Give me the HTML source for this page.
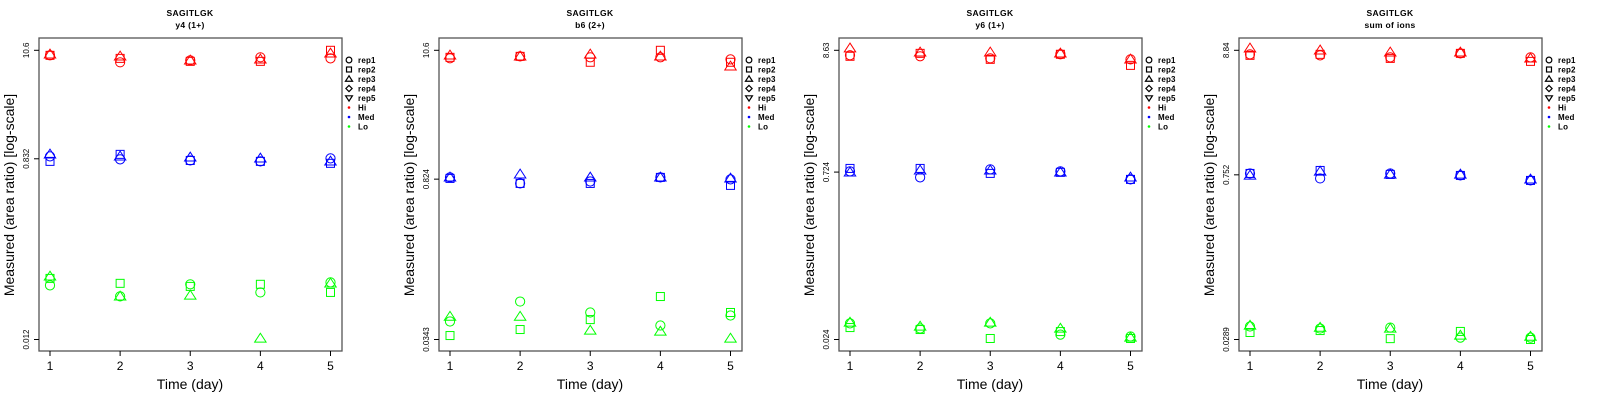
<!DOCTYPE html>
<html><head><meta charset="utf-8">
<style>
html,body{margin:0;padding:0;background:#fff;width:1600px;height:400px;overflow:hidden}
svg{display:block;font-family:"Liberation Sans",Arial,sans-serif}
</style></head>
<body>
<svg id="chart" width="1600" height="400" viewBox="0 0 1600 400" xmlns="http://www.w3.org/2000/svg"></svg>
<script>
const days = [1, 2, 3, 4, 5];
const panelTitles = ["y4 (1+)", "b6 (2+)", "y6 (1+)", "sum of ions"];
const peptide = "SAGITLGK";
const tickTop = [10.6, 10.6, 8.63, 8.84];
const tickMid = [0.832, 0.824, 0.724, 0.752];
const tickBot = [0.012, 0.0343, 0.024, 0.0289];
const legendLabels = ["rep1", "rep2", "rep3", "rep4", "rep5", "Hi", "Med", "Lo"];
const groups = ["Hi", "Med", "Lo"];
const groupColors = ["#ff0000", "#0000ff", "#00ff00"];
// panel 1 (y4)
const p1HiRep1 = [9.42, 8.0, 8.38, 8.99, 8.77];
const p1HiRep2 = [9.42, 8.77, 8.18, 8.18, 10.6];
const p1HiRep3 = [9.64, 9.2, 8.38, 8.58, 9.86];
const p1MedRep1 = [0.881, 0.82, 0.80, 0.783, 0.84];
const p1MedRep2 = [0.783, 0.923, 0.80, 0.783, 0.748];
const p1MedRep3 = [0.923, 0.881, 0.86, 0.84, 0.783];
const p1LoRep1 = [0.0427, 0.033, 0.0438, 0.0362, 0.0458];
const p1LoRep2 = [0.0503, 0.0448, 0.0417, 0.0438, 0.0362];
const p1LoRep3 = [0.0527, 0.033, 0.0337, 0.0123, 0.0448];
// panel 2 (b6)
const p2HiRep1 = [9.04, 9.40, 9.22, 9.22, 8.85];
const p2HiRep2 = [9.22, 9.40, 8.36, 10.6, 8.36];
const p2HiRep3 = [9.59, 9.40, 9.79, 9.40, 7.71];
const p2MedRep1 = [0.853, 0.757, 0.787, 0.853, 0.82];
const p2MedRep2 = [0.836, 0.757, 0.757, 0.853, 0.728];
const p2MedRep3 = [0.853, 0.906, 0.853, 0.853, 0.836];
const p2LoRep1 = [0.049, 0.0728, 0.0586, 0.0453, 0.0552];
const p2LoRep2 = [0.0371, 0.0418, 0.0509, 0.0804, 0.0586];
const p2LoRep3 = [0.054, 0.054, 0.041, 0.0402, 0.035];
// panel 3 (y6)
const p3HiRep1 = [7.80, 7.64, 7.33, 7.96, 7.18];
const p3HiRep2 = [7.64, 8.11, 7.18, 7.96, 6.35];
const p3HiRep3 = [8.99, 8.28, 8.28, 8.11, 7.18];
const p3MedRep1 = [0.734, 0.65, 0.766, 0.734, 0.624];
const p3MedRep2 = [0.78, 0.78, 0.705, 0.72, 0.624];
const p3MedRep3 = [0.72, 0.75, 0.75, 0.72, 0.65];
const p3LoRep1 = [0.0333, 0.030, 0.0333, 0.0265, 0.0255];
const p3LoRep2 = [0.0306, 0.0294, 0.0245, 0.0282, 0.0245];
const p3LoRep3 = [0.0339, 0.0313, 0.0339, 0.030, 0.025];
// panel 4 (sum of ions)
const p4HiRep1 = [8.16, 8.0, 7.69, 8.32, 7.69];
const p4HiRep2 = [8.0, 8.16, 7.53, 8.32, 7.10];
const p4HiRep3 = [9.19, 8.84, 8.49, 8.49, 7.53];
const p4MedRep1 = [0.773, 0.70, 0.773, 0.743, 0.673];
const p4MedRep2 = [0.773, 0.82, 0.758, 0.743, 0.673];
const p4MedRep3 = [0.743, 0.804, 0.758, 0.758, 0.687];
const p4LoRep1 = [0.0374, 0.0359, 0.0366, 0.030, 0.030];
const p4LoRep2 = [0.0332, 0.0345, 0.0294, 0.0339, 0.0289];
const p4LoRep3 = [0.0381, 0.0366, 0.0359, 0.0313, 0.0306];

const panelData = [
  [[p1HiRep1,p1HiRep2,p1HiRep3],[p1MedRep1,p1MedRep2,p1MedRep3],[p1LoRep1,p1LoRep2,p1LoRep3]],
  [[p2HiRep1,p2HiRep2,p2HiRep3],[p2MedRep1,p2MedRep2,p2MedRep3],[p2LoRep1,p2LoRep2,p2LoRep3]],
  [[p3HiRep1,p3HiRep2,p3HiRep3],[p3MedRep1,p3MedRep2,p3MedRep3],[p3LoRep1,p3LoRep2,p3LoRep3]],
  [[p4HiRep1,p4HiRep2,p4HiRep3],[p4MedRep1,p4MedRep2,p4MedRep3],[p4LoRep1,p4LoRep2,p4LoRep3]]
];

const NS = "http://www.w3.org/2000/svg";
const svg = document.getElementById("chart");
function mk(tag, attrs, parent, text) {
  const e = document.createElementNS(NS, tag);
  for (const k in attrs) e.setAttribute(k, attrs[k]);
  if (text !== undefined) e.textContent = text;
  parent.appendChild(e);
  return e;
}
function drawMarker(parent, shape, cx, cy, color, s, sw) {
  let el;
  const w = sw || 1;
  if (shape === 0) el = mk("circle", {cx: cx, cy: cy, r: 4.6*s, fill: "none", stroke: color, "stroke-width": w}, parent);
  else if (shape === 1) el = mk("rect", {x: cx-4*s, y: cy-4*s, width: 8*s, height: 8*s, fill: "none", stroke: color, "stroke-width": w}, parent);
  else if (shape === 2) { const h = 5.2*s; el = mk("polygon", {points: `${cx},${cy-h} ${cx-h*1.1},${cy+h*0.7} ${cx+h*1.1},${cy+h*0.7}`, fill: "none", stroke: color, "stroke-width": w}, parent); }
  else if (shape === 3) { const h = 5*s; el = mk("polygon", {points: `${cx},${cy-h} ${cx+h},${cy} ${cx},${cy+h} ${cx-h},${cy}`, fill: "none", stroke: color, "stroke-width": w}, parent); }
  else if (shape === 4) { const h = 5*s; el = mk("polygon", {points: `${cx},${cy+h} ${cx-h*1.1},${cy-h*0.7} ${cx+h*1.1},${cy-h*0.7}`, fill: "none", stroke: color, "stroke-width": w}, parent); }
  else el = mk("circle", {cx: cx, cy: cy, r: 1.3, fill: color}, parent);
  return el;
}

const repNames = ["rep1", "rep2", "rep3"];
for (let p = 0; p < 4; p++) {
  const ox = p * 400;
  const g = mk("g", {transform: `translate(${ox},0)`}, svg);
  
  
  const lt = Math.log10(tickTop[p]), lb = Math.log10(tickBot[p]);
  const yTop = 50.3, yBot = 339.5;
  const yS = v => yTop + (lt - Math.log10(v)) / (lt - lb) * (yBot - yTop);
  const xS = d => 50 + (d - 1) * (330.5 - 50) / 4;

  const t1 = mk("text", {x: 190, y: 16, "text-anchor": "middle", "font-size": 8.5, "font-weight": "bold", "letter-spacing": 0.4}, g, peptide);
  
  
  const t2 = mk("text", {x: 190, y: 28, "text-anchor": "middle", "font-size": 8.5, "font-weight": "bold", "letter-spacing": 0.3}, g, panelTitles[p]);
  
  

  const box = mk("rect", {x: 39, y: 38, width: 303, height: 313, fill: "none", stroke: "#555", "stroke-width": 1.3}, g);
  
  

  [tickTop[p], tickMid[p], tickBot[p]].forEach(v => {
    const y = yS(v);
    const tk = mk("line", {x1: 34, x2: 39, y1: y, y2: y, stroke: "#000", "stroke-width": 1}, g);
    
    
    const lb2 = mk("text", {x: 0, y: 0, transform: `translate(29,${y}) rotate(-90)`, "text-anchor": "middle", "font-size": 8}, g, String(v));
    
    
  });
  days.forEach(d => {
    const x = xS(d);
    const tk = mk("line", {x1: x, x2: x, y1: 351, y2: 356, stroke: "#000", "stroke-width": 1}, g);
    
    
    const tl = mk("text", {x: x, y: 370, "text-anchor": "middle", "font-size": 12}, g, String(d));
    
    
  });
  const xt = mk("text", {x: 190, y: 389, "text-anchor": "middle", "font-size": 14}, g, "Time (day)");
  
  
  const yt = mk("text", {x: 0, y: 0, transform: "translate(14,195) rotate(-90)", "text-anchor": "middle", "font-size": 14}, g, "Measured (area ratio) [log-scale]");
  
  

  for (let gi = 0; gi < 3; gi++) {
    for (let r = 0; r < 3; r++) {
      const vals = panelData[p][gi][r];
      vals.forEach((v, i) => {
        const m = drawMarker(g, r, xS(days[i]), yS(v), groupColors[gi], 1);
        
        
      });
    }
  }

  const lg = mk("g", {}, g);
  
  
  legendLabels.forEach((lab, i) => {
    const y = 60 + i * 9.5;
    const col = i < 5 ? "#000" : groupColors[i-5];
    const sym = drawMarker(lg, i < 5 ? i : 5, 349, y, col, 0.62, 1.2);
    
    
    const tx = mk("text", {x: 358, y: y + 3, "font-size": 8, "font-weight": "bold", "letter-spacing": 0.2}, lg, lab);
    
    
  });
}
</script>
</body></html>
